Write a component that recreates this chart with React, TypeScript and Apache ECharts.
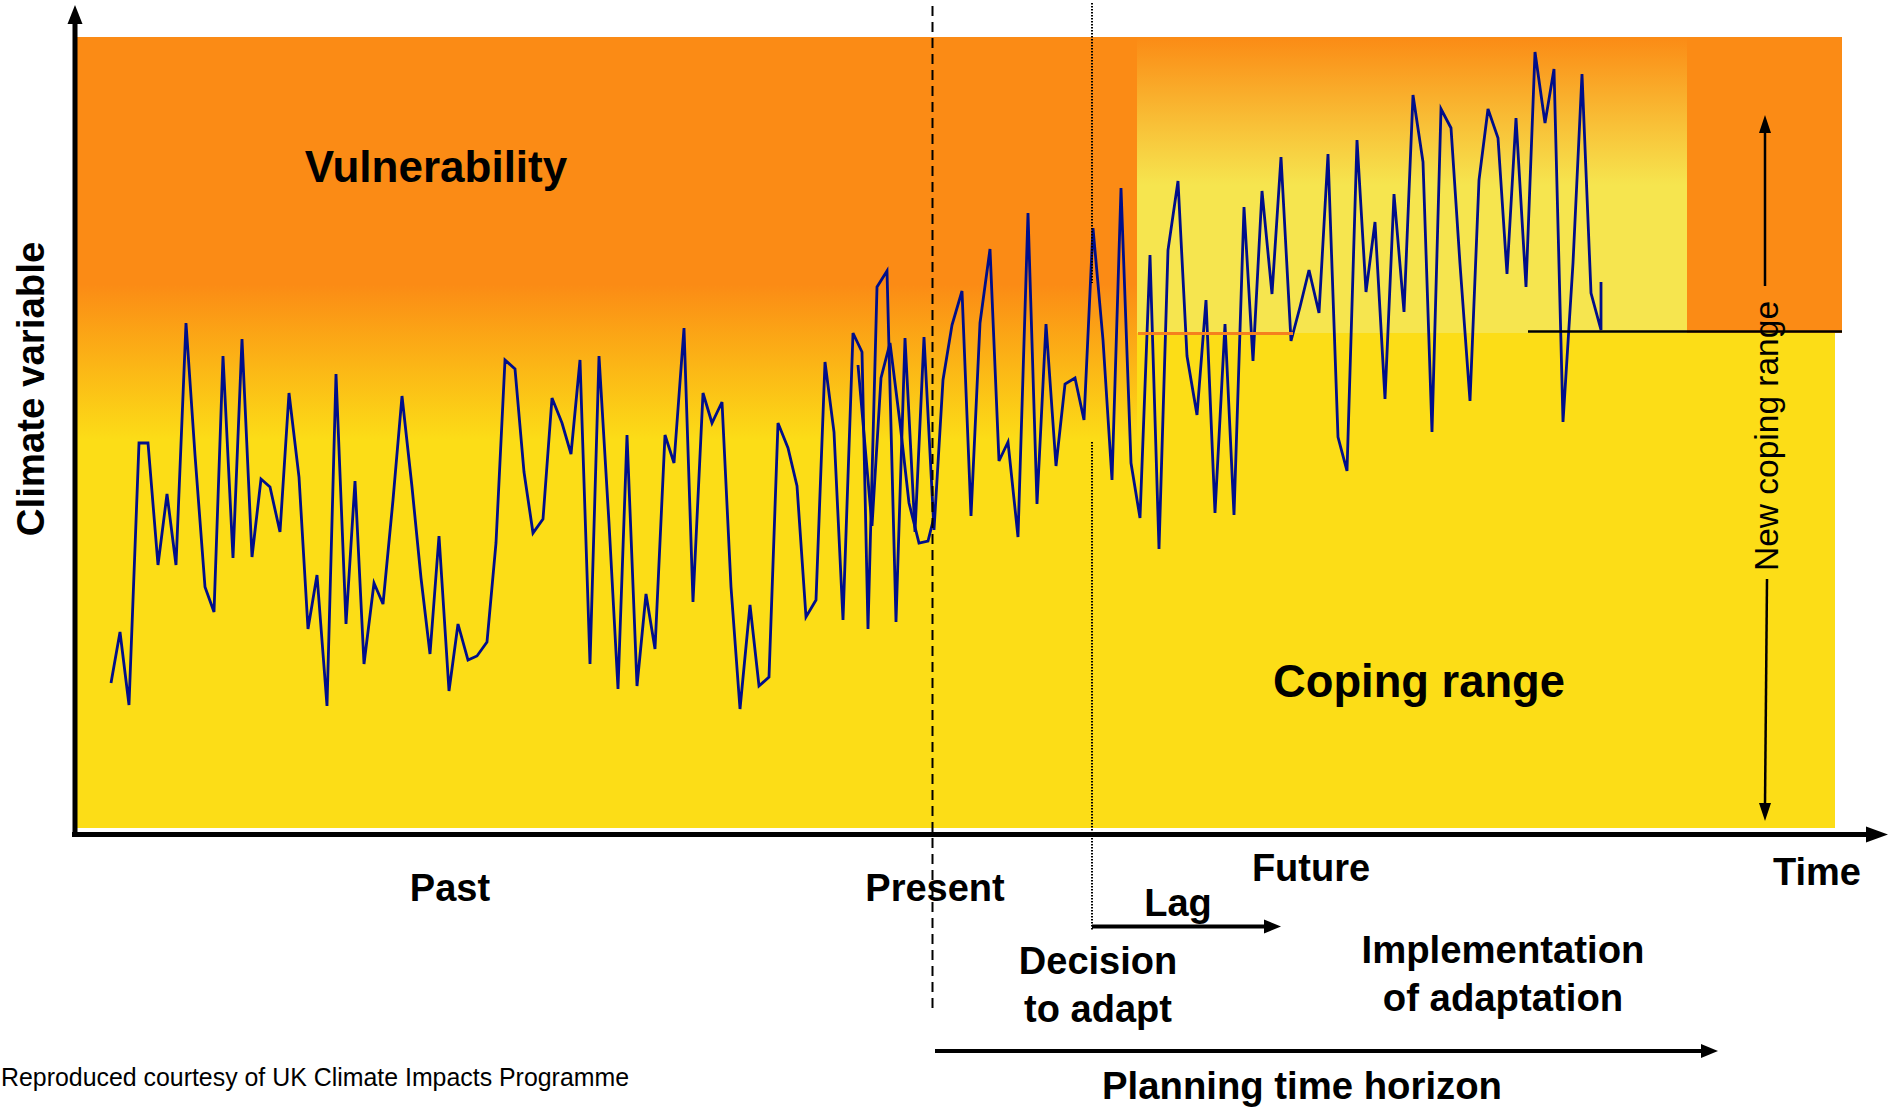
import React, { useEffect, useRef } from "react";
import * as echarts from "echarts";

// Time steps (horizontal axis units) of the climate variable trace
const timeSteps = [
  36, 45, 54, 64, 73, 83, 92, 101, 111, 120,
  130, 139, 148, 158, 167, 177, 186, 195, 205, 214,
  224, 233, 242, 252, 261, 271, 280, 289, 299, 308,
  318, 327, 337, 346, 355, 364, 374, 383, 393, 402,
  412, 421, 430, 440, 449, 458, 468, 477, 487, 496,
  505, 515, 524, 534, 543, 552, 562, 571, 580, 590,
  599, 609, 618, 628, 637, 647, 656, 665, 675, 684,
  694, 703, 713, 722, 731, 741, 750, 759, 768, 778,
  787, 793, 802, 812, 821, 830, 840, 849, 859, 868,
  877, 887, 896, 905, 915, 924, 933, 943, 953, 962,
  971, 981, 990, 1000, 1009, 1018, 1028, 1037, 1046, 1056,
  1065, 1075, 1084, 1093, 1103, 1112, 1122, 1131, 1140, 1150,
  1159, 1169, 1178, 1187, 1197, 1206, 1216, 1225, 1234, 1244,
  1253, 1263, 1272, 1282, 1291, 1300, 1310, 1319, 1329, 1338,
  1348, 1357, 1366, 1376, 1385, 1395, 1404, 1413, 1423, 1432,
  1441, 1451, 1460, 1470, 1479, 1488, 1498, 1507, 1516, 1526,
  1526,
];

// Climate variable values (vertical axis units)
const climateValues = [
  151, 202, 129, 391, 391, 269, 340, 269, 511, 379,
  247, 222, 478, 276, 495, 277, 355, 347, 302, 441,
  357, 205, 259, 128, 460, 210, 353, 170, 251, 230,
  334, 438, 347, 256, 180, 298, 143, 210, 174, 178,
  192, 291, 474, 465, 362, 301, 315, 436, 411, 380,
  474, 170, 478, 311, 145, 399, 148, 240, 185, 399,
  371, 506, 232, 441, 411, 432, 247, 125, 229, 148,
  157, 411, 386, 348, 217, 234, 472, 402, 214, 501,
  482, 205, 547, 563, 212, 496, 302, 497, 304, 454,
  509, 543, 318, 511, 585, 373, 392, 297, 621, 330,
  510, 368, 450, 456, 414, 606, 494, 354, 646, 371,
  316, 579, 285, 584, 653, 478, 419, 534, 321, 510,
  319, 627, 473, 643, 540, 677, 493, 527, 564, 521,
  680, 397, 363, 694, 542, 612, 435, 640, 522, 739,
  672, 402, 725, 706, 570, 433, 654, 725, 696, 560,
  716, 547, 782, 711, 765, 412, 571, 760, 541, 504,
  552,
];

// Overlapping stretch of the trace around the present
const overlapTimeSteps = [783, 797, 806, 815, 825, 834, 844, 853, 859];
const overlapValues = [469, 308, 456, 491, 411, 331, 291, 293, 317];

// Axis extents
const timeMax = 1812;
const climateMax = 828;

// Band boundaries (axis units)
const pastEnd = 1062;
const futureLightEnd = 1612;
const regionRight = 1767;
const yellowRight = 1760;
const oldCopingTop = 797;
const newCopingBase = 501;
const yellowBottom = 6;

const ORANGE = "#FB8B15";
const YELLOW = "#FCDD17";
const LIGHT = "#F6E54F";
const NAVY = "#000E8A";
const FONT = '"Liberation Sans", Arial, Helvetica, sans-serif';

const vGrad = (stops: [number, string][]) => ({
  type: "linear",
  x: 0,
  y: 0,
  x2: 0,
  y2: 1,
  colorStops: stops.map(([offset, color]) => ({ offset, color })),
});

const txt = (
  text: string,
  x: number,
  y: number,
  size: number,
  weight: string = "bold",
  align: string = "center",
  rotation: number = 0
) => ({
  type: "text",
  x,
  y,
  rotation,
  z: 100,
  silent: true,
  style: {
    text,
    fill: "#000",
    fontSize: size,
    fontWeight: weight,
    fontFamily: FONT,
    align,
    verticalAlign: "middle",
  },
});

const ln = (x1: number, y1: number, x2: number, y2: number, w: number, dash?: number[]) => ({
  type: "line",
  z: 100,
  silent: true,
  shape: { x1, y1, x2, y2 },
  style: { stroke: "#000", lineWidth: w, lineDash: dash || null },
});

const poly = (points: number[][]) => ({
  type: "polygon",
  z: 100,
  silent: true,
  shape: { points },
  style: { fill: "#000" },
});

export default function App() {
  const ref = useRef<HTMLDivElement>(null);

  useEffect(() => {
    if (!ref.current) return;
    const chart = echarts.init(ref.current, undefined, { renderer: "svg" });

    const lineData = timeSteps.map((t, i) => [t, climateValues[i]]);
    const overlapData = overlapTimeSteps.map((t, i) => [t, overlapValues[i]]);

    const option: any = {
      animation: false,
      backgroundColor: "#ffffff",
      grid: { left: 75, right: 12, top: 6, bottom: 273 },
      xAxis: { type: "value", min: 0, max: timeMax, show: false },
      yAxis: { type: "value", min: 0, max: climateMax, show: false },
      series: [
        {
          type: "line",
          data: lineData,
          symbol: "none",
          silent: true,
          z: 3,
          lineStyle: { color: NAVY, width: 2.8, join: "miter", miterLimit: 4 },
          itemStyle: { color: NAVY },
          markArea: {
            silent: true,
            label: { show: false },
            data: [
              [
                {
                  xAxis: 2,
                  yAxis: oldCopingTop,
                  itemStyle: {
                    color: vGrad([
                      [0, ORANGE],
                      [0.313, ORANGE],
                      [0.51, YELLOW],
                      [1, YELLOW],
                    ]),
                  },
                },
                { xAxis: pastEnd, yAxis: yellowBottom },
              ],
              [
                { xAxis: pastEnd, yAxis: newCopingBase, itemStyle: { color: YELLOW } },
                { xAxis: yellowRight, yAxis: yellowBottom },
              ],
              [
                {
                  xAxis: pastEnd,
                  yAxis: oldCopingTop,
                  itemStyle: {
                    color: vGrad([
                      [0, ORANGE],
                      [0.5, LIGHT],
                      [1, LIGHT],
                    ]),
                  },
                },
                { xAxis: futureLightEnd, yAxis: newCopingBase },
              ],
              [
                { xAxis: futureLightEnd, yAxis: oldCopingTop, itemStyle: { color: ORANGE } },
                { xAxis: regionRight, yAxis: newCopingBase },
              ],
            ],
          },
          markLine: {
            silent: true,
            symbol: ["none", "none"],
            label: { show: false },
            data: [
              [
                { coord: [pastEnd + 1, newCopingBase], lineStyle: { color: "#F5801E", width: 3, type: "solid" } },
                { coord: [1218, newCopingBase] },
              ],
              [
                { coord: [1453, 503], lineStyle: { color: "#000", width: 2.5, type: "solid" } },
                { coord: [regionRight, 503] },
              ],
            ],
          },
        },
        {
          type: "line",
          data: overlapData,
          symbol: "none",
          silent: true,
          z: 3,
          lineStyle: { color: NAVY, width: 2.8, join: "miter", miterLimit: 4 },
          itemStyle: { color: NAVY },
        },
      ],
      graphic: {
        elements: [
          // axes
          ln(75, 836, 75, 22, 5),
          poly([[75, 5], [67.5, 24], [82.5, 24]]),
          ln(72, 834.5, 1868, 834.5, 5),
          poly([[1888, 834.5], [1866, 826.5], [1866, 842.5]]),
          // present & decision lines
          ln(932.5, 6, 932.5, 1009, 2, [10, 6]),
          ln(1092, 3, 1092, 283, 2, [1.5, 1.5]),
          ln(1092, 442, 1092, 930, 2, [1.5, 1.5]),
          // lag arrow
          ln(1092, 926.5, 1266, 926.5, 4),
          poly([[1281, 926.5], [1264, 919.5], [1264, 933.5]]),
          // planning arrow
          ln(935, 1051, 1703, 1051, 4),
          poly([[1718, 1051], [1701, 1044], [1701, 1058]]),
          // new coping range double arrow
          ln(1765, 130, 1765, 286, 2.5),
          poly([[1765, 115], [1759, 133], [1771, 133]]),
          ln(1767, 579, 1765, 805, 2.5),
          poly([[1765, 821], [1759, 803], [1771, 803]]),
          // texts
          txt("Climate variable", 30, 389, 38.4, "bold", "center", Math.PI / 2),
          txt("Vulnerability", 436, 166, 44),
          txt("Coping range", 1419, 681, 45.3),
          txt("New coping range", 1766, 436, 33.5, "normal", "center", Math.PI / 2),
          txt("Past", 450, 888, 38),
          txt("Present", 935, 888, 38),
          txt("Future", 1311, 868, 38),
          txt("Time", 1817, 872, 38),
          txt("Lag", 1178, 903, 38),
          txt("Decision", 1098, 961, 38),
          txt("to adapt", 1098, 1009, 38),
          txt("Implementation", 1503, 949, 38.3),
          txt("of adaptation", 1503, 997, 38.3),
          txt("Planning time horizon", 1302, 1085, 38.3),
          txt("Reproduced courtesy of UK Climate Impacts Programme", 1, 1077, 24.9, "normal", "left"),
        ],
      },
    };

    chart.setOption(option);
    return () => chart.dispose();
  }, []);

  return (
    <div
      ref={ref}
      style={{ position: "fixed", left: 0, top: 0, width: 1899, height: 1107, background: "#fff" }}
    />
  );
}
